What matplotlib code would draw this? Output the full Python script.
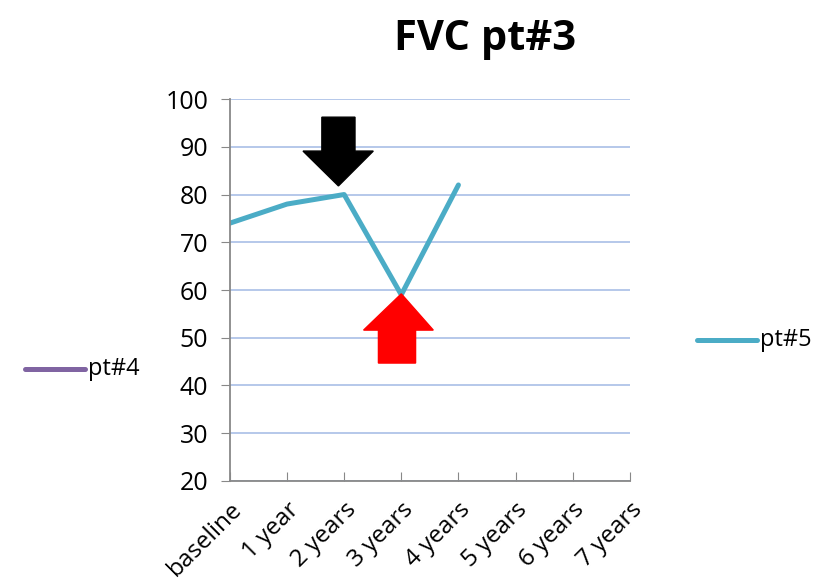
import numpy as np
import matplotlib.pyplot as plt
from matplotlib.patches import Polygon
from matplotlib.lines import Line2D

categories = ['baseline', '1 year', '2 years', '3 years', '4 years',
              '5 years', '6 years', '7 years']
pt5 = [74, 78, 80, 59, 82, np.nan, np.nan, np.nan]
pt4 = [np.nan] * 8

plt.rcParams['font.family'] = ['Open Sans', 'DejaVu Sans']

fig = plt.figure(figsize=(8.18, 5.87), dpi=100)
ax = fig.add_axes([0.281, 0.1806, 0.489, 0.6507])

x = np.arange(len(categories))
ax.plot(x, pt4, color='#8064a2', lw=3.6)
ax.plot(x, pt5, color='#4bacc6', lw=3.6, solid_capstyle='round')

ax.set_xlim(0, 7)
ax.set_ylim(20, 100)
ax.set_yticks(range(20, 101, 10))
ax.set_xticks(x)
ax.set_xticklabels(categories, rotation=45, ha='right', rotation_mode='anchor',
                   fontsize=17.5)
ax.tick_params(axis='y', labelsize=18, length=6.5, color='#888888', pad=9)
ax.tick_params(axis='x', direction='in', length=6.5, color='#888888', pad=12)
ax.yaxis.grid(True, color='#a9bfe6', lw=1.2)
ax.set_axisbelow(True)
for s in ['top', 'right']:
    ax.spines[s].set_visible(False)
for s in ['left', 'bottom']:
    ax.spines[s].set_color('#888888')
    ax.spines[s].set_linewidth(1.3)

# black down arrow
down = [(1.61, 96.2), (2.19, 96.2), (2.19, 89.1), (2.51, 89.1), (1.9, 81.8),
        (1.28, 89.1), (1.61, 89.1)]
ax.add_patch(Polygon(down, closed=True, color='black', clip_on=False, zorder=5))
# red up arrow
up = [(2.6, 44.7), (3.25, 44.7), (3.25, 51.6), (3.56, 51.6), (3.0, 59.2),
      (2.34, 51.6), (2.6, 51.6)]
ax.add_patch(Polygon(up, closed=True, color='#ff0000', clip_on=False, zorder=5))

fig.text(0.593, 0.932, 'FVC pt#3', ha='center', va='center',
         fontsize=30, fontweight='bold')

# legend entries (Excel places them apart)
fig.add_artist(Line2D([0.0306, 0.1039], [0.3714, 0.3714], color='#8064a2',
                      lw=3.6, solid_capstyle='round'))
fig.text(0.1076, 0.3714, 'pt#4', ha='left', va='center', fontsize=17)
fig.add_artist(Line2D([0.852, 0.925], [0.4208, 0.4208], color='#4bacc6',
                      lw=3.6, solid_capstyle='round'))
fig.text(0.929, 0.4208, 'pt#5', ha='left', va='center', fontsize=17)

fig.savefig('out.png', dpi=100)
